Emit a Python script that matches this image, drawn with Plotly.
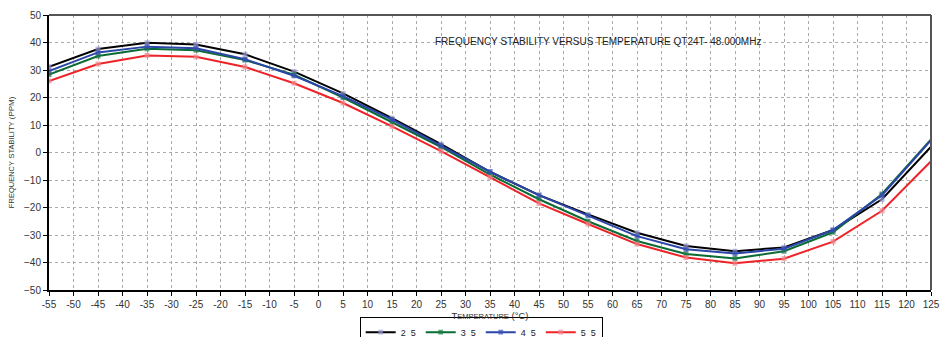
import plotly.graph_objects as go

temps = [-55, -45, -35, -25, -15, -5, 5, 15, 25, 35, 45, 55, 65, 75, 85, 95, 105, 115, 125]
s2_5 = [31.2, 37.6, 39.9, 39.3, 35.7, 29.4, 21.5, 12.5, 3.0, -7.0, -15.5, -22.5, -29.2, -34.0, -35.9, -34.5, -28.2, -17.0, 2.1]
s3_5 = [28.3, 35.1, 37.7, 37.2, 33.6, 28.3, 20.0, 11.0, 2.0, -8.0, -17.0, -25.0, -32.2, -36.9, -38.5, -35.9, -29.0, -15.1, 4.8]
s4_5 = [29.6, 36.4, 38.5, 37.9, 33.9, 27.9, 20.5, 12.0, 2.5, -7.0, -15.5, -23.0, -30.4, -35.2, -36.7, -35.0, -28.2, -15.5, 4.5]
s5_5 = [26.0, 32.2, 35.3, 34.8, 31.1, 25.2, 18.0, 9.5, 0.5, -9.0, -18.5, -26.0, -33.3, -38.2, -40.3, -38.6, -32.4, -21.2, -3.2]
names = ["2_5", "3_5", "4_5", "5_5"]
x_ticks = list(range(-55, 130, 5))
y_ticks = list(range(-50, 60, 10))

series = [s2_5, s3_5, s4_5, s5_5]
line_colors = ["#000000", "#0b6b35", "#2a46a8", "#ee2328"]
marker_colors = ["#9a9ad0", "#1a7a45", "#3650b0", "#f2888c"]
msizes = [5] * (len(temps) - 1) + [0]

fig = go.Figure()
for name, ys, lc, mc in zip(names, series, line_colors, marker_colors):
    fig.add_trace(go.Scatter(
        x=temps, y=ys, name=name, mode="lines+markers",
        line=dict(color=lc, width=2),
        marker=dict(symbol="square", size=msizes, color=mc, line=dict(width=0)),
    ))

small = "font-size:7.5px"
fig.add_annotation(
    text="FREQUENCY STABILITY VERSUS TEMPERATURE QT24T- 48.000MHz",
    xref="paper", yref="paper", x=0.622, y=0.931, showarrow=False,
    font=dict(family="Liberation Sans", size=10, color="#222"),
)

fig.update_layout(
    width=940, height=337,
    margin=dict(l=49, r=9, t=15, b=47, autoexpand=False),
    plot_bgcolor="white", paper_bgcolor="white",
    font=dict(family="Liberation Sans", size=10, color="#333"),
    showlegend=True,
    legend=dict(orientation="h", x=0.49, xanchor="center", y=-0.097, yanchor="top",
                bordercolor="#000", borderwidth=1, font=dict(size=9, color="#222"),
                itemwidth=30, tracegroupgap=0),
    xaxis=dict(
        range=[-55, 125], tickvals=x_ticks, ticktext=[str(v) for v in x_ticks],
        showgrid=True, gridcolor="#aaaaaa", griddash="dot", gridwidth=1,
        showline=True, linecolor="#000", linewidth=2, mirror=False,
        ticks="outside", ticklen=4, tickcolor="#000",
        zeroline=False, tickfont=dict(size=10, color="#333"),
        title=dict(text=f"T<span style='{small}'>EMPERATURE</span> (°C)", font=dict(size=9.5, color="#333"), standoff=0),
    ),
    yaxis=dict(
        range=[-50, 50], tickvals=y_ticks,
        showgrid=True, gridcolor="#aaaaaa", griddash="dot", gridwidth=1,
        showline=True, linecolor="#000", linewidth=2,
        ticks="outside", ticklen=4, tickcolor="#000",
        zeroline=False, tickfont=dict(size=10, color="#333"),
        title=dict(text=f"F<span style='{small}'>REQUENCY</span> S<span style='{small}'>TABILITY</span> (PPM)", font=dict(size=8, color="#333"), standoff=8),
    ),
)

# top and right borders
fig.add_shape(type="line", xref="paper", yref="paper", x0=0, x1=1, y0=1, y1=1,
              line=dict(color="#555", width=2))
fig.add_shape(type="line", xref="paper", yref="paper", x0=1, x1=1, y0=0, y1=1,
              line=dict(color="#555", width=2))

fig.write_html("out.html")
